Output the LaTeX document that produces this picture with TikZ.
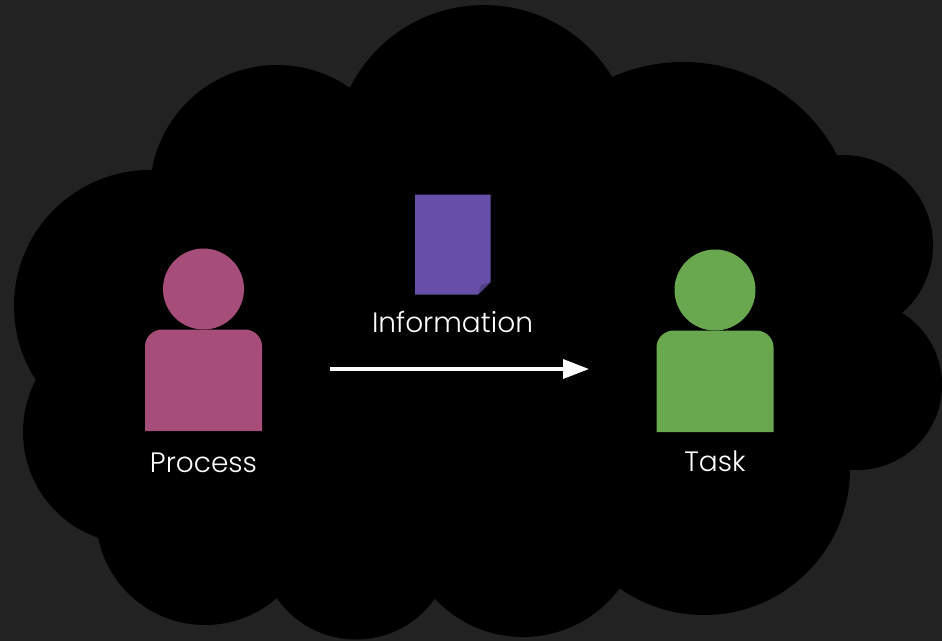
\documentclass[tikz,border=0pt]{standalone}
\usepackage{fontspec}
\setmainfont{Poppins}[UprightFont=* Light]
\usepackage{tikz}
\usetikzlibrary{positioning,arrows.meta}
\definecolor{mybg}{RGB}{34,34,34}
\definecolor{mypink}{RGB}{166,77,121}
\definecolor{mygreen}{RGB}{106,168,79}
\definecolor{mypurple}{RGB}{103,78,167}
\definecolor{myfold}{RGB}{82,62,133}

\begin{document}
\begin{tikzpicture}[x=1pt,y=-1pt,
  headnode/.style={circle,minimum size=81pt,inner sep=0pt},
  textnode/.style={text=white,font=\fontsize{28}{32}\selectfont,inner sep=0pt},
  flow/.style={-{Triangle[length=26pt,width=19pt]},white,line width=3.5pt}
]
\useasboundingbox (0,0) rectangle (942,641);
\fill[mybg] (0,0) rectangle (942,641);

% the cloud
\foreach \cx/\cy/\r in {484/155/150,277/192/127,683/236/174,150/306/136,843/245/90,
    857/385/85,135/432/112,205/516/109,356/543/96.5,523/516.5/120.5,704/469/146} {
  \fill[black] (\cx,\cy) circle [radius=\r];
}
\fill[black] (150,200) rectangle (800,560);

% the process
\node[headnode,fill=mypink] (phead) at (203.5,289) {};
\fill[mypink] (145,431) -- (145,346) .. controls (145,337) and (153,329.5) .. (162,329.5)
  -- (245,329.5) .. controls (254,329.5) and (262,337) .. (262,346) -- (262,431) -- cycle;
\node[textnode,anchor=base] (plabel) at (203.5,472.5) {Process};

% the task
\node[headnode,fill=mygreen] (thead) at (715,290) {};
\fill[mygreen] (656.5,432) -- (656.5,347) .. controls (656.5,338) and (664.5,330.5) .. (673.5,330.5)
  -- (756.5,330.5) .. controls (765.5,330.5) and (773.5,338) .. (773.5,347) -- (773.5,432) -- cycle;
\node[textnode,anchor=base] (tlabel) at (715,471.5) {Task};

% the document
\fill[mypurple] (415,194.5) -- (490.5,194.5) -- (490.5,282) -- (478,294.5) -- (415,294.5) -- cycle;
\fill[myfold] (490.5,282) -- (478,294.5) -- (481,285) -- cycle;
\node[textnode,anchor=base] (ilabel) at (452.5,332) {Information};

% the arrow
\coordinate (from) at (330,369);
\coordinate (to) at (589,369);
\draw[flow] (from) -- (to);
\end{tikzpicture}
\end{document}
